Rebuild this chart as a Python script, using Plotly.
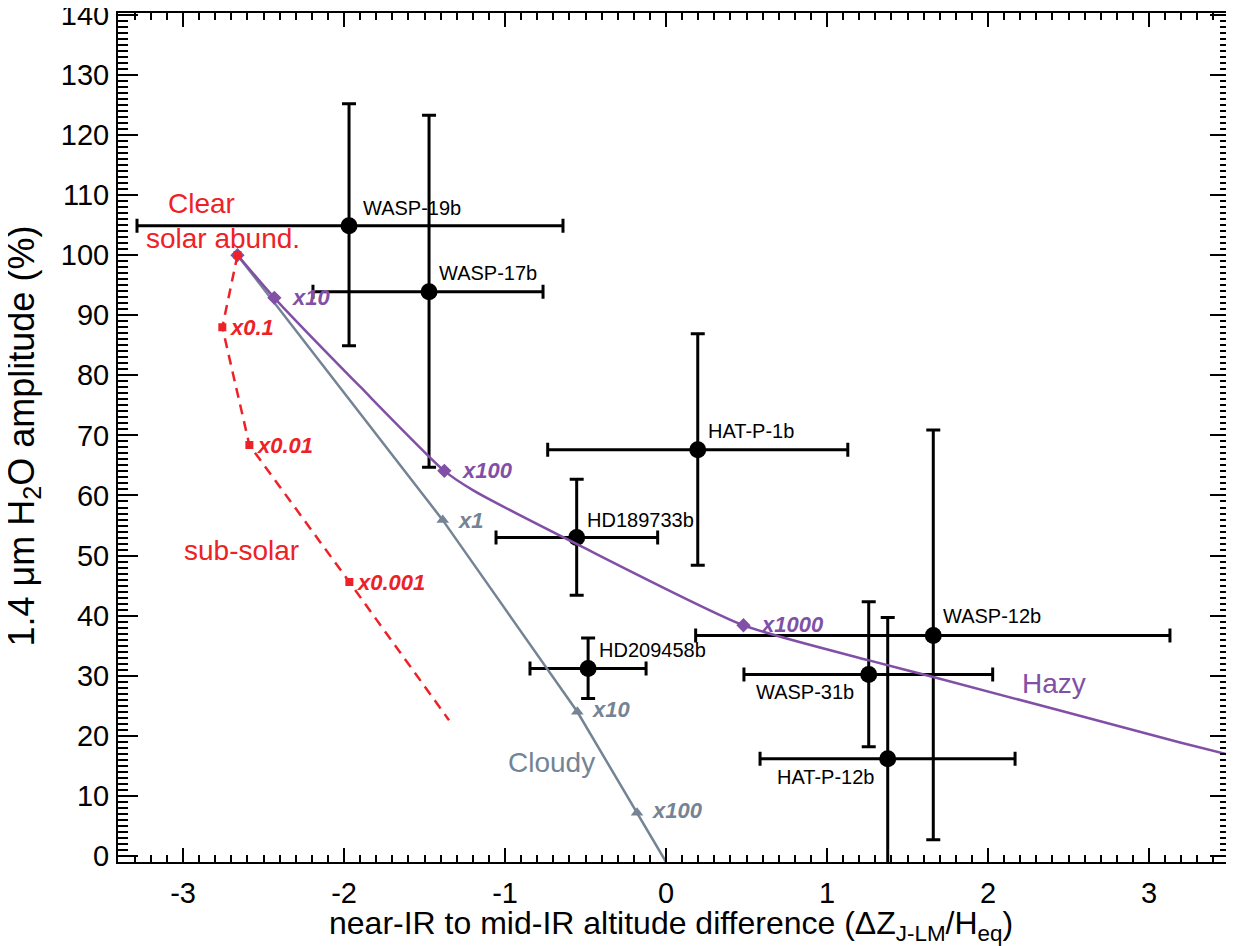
import plotly.graph_objects as go

# ---------------- data ----------------
planets = ["WASP-19b", "WASP-17b", "HAT-P-1b", "HD189733b",
           "HD209458b", "WASP-12b", "WASP-31b", "HAT-P-12b"]
planet_x = [-1.969, -1.472, 0.197, -0.555, -0.484, 1.660, 1.259, 1.377]
planet_y = [104.9, 93.9, 67.6, 53.0, 31.2, 36.7, 30.2, 16.2]
planet_xerr_minus = [1.317, 0.721, 0.932, 0.501, 0.361, 1.476, 0.775, 0.793]
planet_xerr_plus = [1.329, 0.708, 0.932, 0.503, 0.360, 1.470, 0.770, 0.791]
planet_yerr_plus = [20.3, 29.4, 19.3, 9.7, 5.1, 34.2, 12.1, 23.5]
planet_yerr_minus = [20.0, 29.2, 19.2, 9.6, 5.0, 34.0, 12.0, 20.0]

# Clear, sub-solar metallicity track (red dashed)
clear_x = [-2.662, -2.756, -2.588, -1.967, -1.348]
clear_y = [100.0, 88.0, 68.4, 45.6, 22.6]
clear_marker_x = [-2.662, -2.756, -2.588, -1.967]
clear_marker_y = [100.0, 88.0, 68.4, 45.6]
clear_labels = ["", "x0.1", "x0.01", "x0.001"]

# Cloudy track (grey)
cloudy_x = [-2.662, -1.387, -0.551, -0.180, 0.0]
cloudy_y = [100.0, 55.9, 24.0, 7.2, -1.0]
cloudy_marker_x = [-1.387, -0.551, -0.180]
cloudy_marker_y = [55.9, 24.0, 7.2]
cloudy_labels = ["x1", "x10", "x100"]

# Hazy track (purple)
hazy_x = [-2.662, -2.433, -1.90, -1.377, -1.20, -0.553,
          0.481, 1.255, 1.660, 3.193, 3.503]
hazy_y = [100.0, 92.9, 78.1, 64.1, 60.9, 51.9,
          38.4, 32.6, 29.8, 18.9, 16.8]
hazy_marker_x = [-2.662, -2.433, -1.377, 0.481]
hazy_marker_y = [100.0, 92.9, 64.1, 38.4]
hazy_labels = ["", "x10", "x100", "x1000"]

# region labels
region_text = ["Clear", "solar abund.", "sub-solar", "Cloudy", "Hazy"]
region_x = [-2.884, -2.752, -2.635, -0.714, 2.408]
region_y = [108.6, 102.8, 50.9, 15.5, 28.7]

x_ticks = [-3, -2, -1, 0, 1, 2, 3]
y_ticks = [0, 10, 20, 30, 40, 50, 60, 70, 80, 90, 100, 110, 120, 130, 140]

x_title = "near-IR to mid-IR altitude difference (ΔZ<sub>J-LM</sub>/H<sub>eq</sub>)"
y_title = "1.4 μm H<sub>2</sub>O amplitude (%)"

# ---------------- styles ----------------
RED = "#ec2227"
PURPLE = "#8150a6"
GREY = "#748494"
FONT = "Liberation Sans, Arial, Helvetica, sans-serif"

# label offsets (px) for planet names: (xanchor, xshift, yshift)
planet_label_style = [
    ("left", 12, 18), ("left", 8, 19), ("left", 8, 19), ("left", 8, 18),
    ("left", 9, 19), ("left", 8, 19), ("right", -13, -17), ("right", -12, -18),
]

fig = go.Figure()

# data points with error bars
fig.add_trace(go.Scatter(
    x=planet_x, y=planet_y, mode="markers",
    marker=dict(color="black", size=17),
    error_x=dict(type="data", symmetric=False, array=planet_xerr_plus,
                 arrayminus=planet_xerr_minus, color="black", thickness=3, width=7),
    error_y=dict(type="data", symmetric=False, array=planet_yerr_plus,
                 arrayminus=planet_yerr_minus, color="black", thickness=3, width=7),
    showlegend=False,
))

# cloudy
fig.add_trace(go.Scatter(x=cloudy_x, y=cloudy_y, mode="lines",
                         line=dict(color=GREY, width=2.5), showlegend=False))
fig.add_trace(go.Scatter(x=cloudy_marker_x, y=cloudy_marker_y, mode="markers",
                         marker=dict(symbol="triangle-up", color=GREY, size=11),
                         showlegend=False))
# hazy
fig.add_trace(go.Scatter(x=hazy_x, y=hazy_y, mode="lines",
                         line=dict(color=PURPLE, width=2.5, shape="spline", smoothing=0.6),
                         showlegend=False))
fig.add_trace(go.Scatter(x=hazy_marker_x, y=hazy_marker_y, mode="markers",
                         marker=dict(symbol="diamond", color=PURPLE, size=11),
                         showlegend=False))
# clear / sub-solar
fig.add_trace(go.Scatter(x=clear_x, y=clear_y, mode="lines",
                         line=dict(color=RED, width=2.5, dash="10px,7px"),
                         showlegend=False))
fig.add_trace(go.Scatter(x=clear_marker_x, y=clear_marker_y, mode="markers",
                         marker=dict(symbol="square", color=RED, size=8),
                         showlegend=False))

annotations = []
for name, px, py, st in zip(planets, planet_x, planet_y, planet_label_style):
    annotations.append(dict(x=px, y=py, xref="x", yref="y", text=name, showarrow=False,
                            xanchor=st[0], yanchor="middle", xshift=st[1], yshift=st[2],
                            font=dict(family=FONT, size=20, color="black")))


def model_labels(xs, ys, labels, color, xshift, yshifts):
    for lx, ly, lt, ys_ in zip(xs, ys, labels, yshifts):
        if not lt:
            continue
        annotations.append(dict(x=lx, y=ly, xref="x", yref="y",
                                text="<b><i>" + lt + "</i></b>", showarrow=False,
                                xanchor="left", yanchor="middle", xshift=xshift, yshift=ys_,
                                font=dict(family=FONT, size=22, color=color)))


model_labels(clear_marker_x, clear_marker_y, clear_labels, RED, 6, [0, 0, 0, 0])
model_labels(cloudy_marker_x, cloudy_marker_y, cloudy_labels, GREY, 13, [0, 2, 2])
model_labels(hazy_marker_x, hazy_marker_y, hazy_labels, PURPLE, 16, [0, 0, 0, 1])

region_colors = [RED, RED, RED, GREY, PURPLE]
for t, rx, ry, c in zip(region_text, region_x, region_y, region_colors):
    annotations.append(dict(x=rx, y=ry, xref="x", yref="y", text=t, showarrow=False,
                            xanchor="center", yanchor="middle",
                            font=dict(family=FONT, size=28, color=c)))

# axis titles
annotations.append(dict(x=0.5, y=0, xref="paper", yref="paper", text=x_title,
                        showarrow=False, xanchor="center", yanchor="middle",
                        xshift=-3, yshift=-63,
                        font=dict(family=FONT, size=32, color="black")))
annotations.append(dict(x=0, y=0.5, xref="paper", yref="paper", text=y_title,
                        showarrow=False, xanchor="center", yanchor="middle",
                        textangle=-90, xshift=-95, yshift=1,
                        font=dict(family=FONT, size=36, color="black")))

axis_common = dict(
    showline=True, linecolor="black", linewidth=2, mirror="allticks",
    ticks="inside", tickcolor="black", tickwidth=2,
    showgrid=False, zeroline=False, automargin=False,
    ticklabeloverflow="allow",
    tickfont=dict(family=FONT, size=29, color="black"),
)

# the page body adds an 8px offset, so the figure is placed at (8, 8) in the window
fig.update_layout(
    width=1226, height=938,
    margin=dict(l=110, r=4, t=5, b=84, autoexpand=False),
    paper_bgcolor="white", plot_bgcolor="white",
    annotations=annotations,
    font=dict(family=FONT, color="black"),
    xaxis=dict(
        range=[-3.404, 3.503], tickvals=x_ticks, ticktext=[str(v) for v in x_ticks],
        ticklen=14, ticklabelstandoff=4,
        minor=dict(ticks="inside", dtick=0.1, tick0=0, ticklen=7, tickwidth=1.5,
                   tickcolor="black", showgrid=False),
        **axis_common,
    ),
    yaxis=dict(
        range=[-1.0, 140.3], tickvals=y_ticks, ticktext=[str(v) for v in y_ticks],
        ticklen=20, ticklabelstandoff=1,
        minor=dict(ticks="inside", dtick=1, tick0=0, ticklen=10, tickwidth=1.5,
                   tickcolor="black", showgrid=False),
        **axis_common,
    ),
)

fig.write_html("out.html")
